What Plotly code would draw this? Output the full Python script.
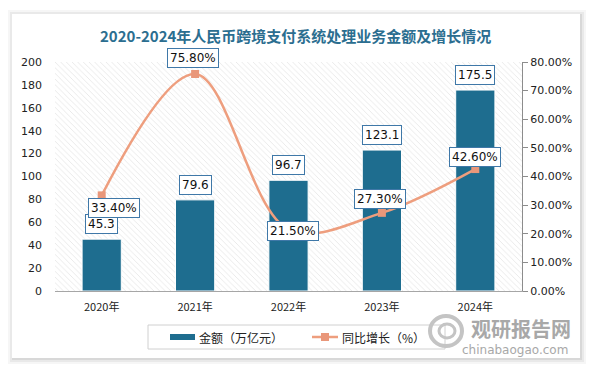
import plotly.graph_objects as go

categories = ["2020年", "2021年", "2022年", "2023年", "2024年"]
amount = [45.3, 79.6, 96.7, 123.1, 175.5]          # 万亿元
growth = [33.40, 75.80, 21.50, 27.30, 42.60]        # %

title_text = "2020-2024年人民币跨境支付系统处理业务金额及增长情况"
bar_name = "金额（万亿元）"
line_name = "同比增长（%）"

BAR_COLOR = "#1E6D8F"
LINE_COLOR = "#EE9E7E"
MARKER_COLOR = "#E9977A"
LABEL_BORDER = "#3F78A8"
FONT = "DejaVu Sans, Verdana, sans-serif"
CJK = "Noto Sans CJK SC, sans-serif"

xpos = list(range(len(categories)))

fig = go.Figure()

# hatched plot-area background
fig.add_trace(go.Bar(
    x=[(len(categories) - 1) / 2], y=[200], width=[len(categories)],
    marker=dict(color="white", line=dict(width=0),
                pattern=dict(shape="\\", fgcolor="#d0d0d0", bgcolor="white",
                             size=4, solidity=0.22, fillmode="overlay")),
    showlegend=False, hoverinfo="skip", yaxis="y"))

fig.add_trace(go.Bar(
    x=xpos, y=amount, width=0.42, name=bar_name,
    marker=dict(color=BAR_COLOR, line=dict(color="white", width=1)),
    yaxis="y", showlegend=False))

fig.add_trace(go.Scatter(
    x=xpos, y=growth, name=line_name, mode="lines+markers",
    line=dict(color=LINE_COLOR, width=2.5, shape="spline", smoothing=1.0),
    marker=dict(symbol="square", size=8, color=MARKER_COLOR),
    yaxis="y2", showlegend=False))

annotations = []
for i, v in enumerate(amount):
    annotations.append(dict(
        x=xpos[i], y=v, xref="x", yref="y", text=f"{v:.1f}", showarrow=False,
        yshift=15, font=dict(family=FONT, size=12, color="#111"),
        bgcolor="white", bordercolor=LABEL_BORDER, borderwidth=1, borderpad=2))

pct_dx = [12, -2, 4, -2, 0]
pct_dy = [-13, 16, -2, 14, 12]
for i, v in enumerate(growth):
    annotations.append(dict(
        x=xpos[i], y=v, xref="x", yref="y2", text=f"{v:.2f}%", showarrow=False,
        xshift=pct_dx[i], yshift=pct_dy[i],
        font=dict(family=FONT, size=12, color="#111"),
        bgcolor="white", bordercolor=LABEL_BORDER, borderwidth=1, borderpad=2))


def px_x(p):
    return (p - 55) / 467


def px_y(p):
    return (291 - p) / 229


# title
annotations.append(dict(
    x=px_x(295), y=px_y(35), xref="paper", yref="paper",
    text=f"<b>{title_text}</b>", showarrow=False,
    font=dict(family=CJK, size=15, color="#2B6E90"),
    xanchor="center", yanchor="middle"))

# custom legend texts
annotations.append(dict(
    x=px_x(197), y=px_y(337), xref="paper", yref="paper", text=bar_name,
    showarrow=False, xanchor="left", yanchor="middle",
    font=dict(family=CJK, size=12, color="#222")))
annotations.append(dict(
    x=px_x(340), y=px_y(337), xref="paper", yref="paper", text=line_name,
    showarrow=False, xanchor="left", yanchor="middle",
    font=dict(family=CJK, size=12, color="#222")))

# watermark
annotations.append(dict(
    x=px_x(521), y=px_y(328), xref="paper", yref="paper",
    text="<b>观研报告网</b>", showarrow=False,
    font=dict(family=CJK, size=20, color="#a8a8a8"),
    xanchor="center", yanchor="middle"))
annotations.append(dict(
    x=px_x(515), y=px_y(350), xref="paper", yref="paper",
    text="chinabaogao.com", showarrow=False,
    font=dict(family=FONT, size=12, color="#a8a8a8"),
    xanchor="center", yanchor="middle"))

shapes = []
# card shadow
for off, col in [(6, "rgba(0,0,0,0.035)"), (4, "rgba(0,0,0,0.05)"), (2, "rgba(0,0,0,0.07)")]:
    shapes.append(dict(type="rect", xref="paper", yref="paper", layer="below",
                       x0=px_x(12 - off + 2), x1=px_x(580 + off), y0=px_y(358 + off), y1=px_y(14 - off + 2),
                       fillcolor=col, line=dict(width=0)))
shapes.append(dict(type="rect", xref="paper", yref="paper", layer="below",
                   x0=px_x(12), x1=px_x(580), y0=px_y(358), y1=px_y(14),
                   fillcolor="white", line=dict(width=0)))
# legend box and symbols
shapes.append(dict(type="rect", xref="paper", yref="paper", layer="above",
                   x0=px_x(148), x1=px_x(445), y0=px_y(349), y1=px_y(325),
                   fillcolor="rgba(0,0,0,0)", line=dict(color="#d0d0d0", width=1)))
shapes.append(dict(type="rect", xref="paper", yref="paper", layer="above",
                   x0=px_x(170), x1=px_x(195), y0=px_y(340), y1=px_y(334),
                   fillcolor=BAR_COLOR, line=dict(width=0)))
shapes.append(dict(type="line", xref="paper", yref="paper", layer="above",
                   x0=px_x(312), x1=px_x(338), y0=px_y(337), y1=px_y(337),
                   line=dict(color=LINE_COLOR, width=2.5)))
shapes.append(dict(type="rect", xref="paper", yref="paper", layer="above",
                   x0=px_x(321), x1=px_x(329), y0=px_y(341), y1=px_y(333),
                   fillcolor=MARKER_COLOR, line=dict(width=0)))
# watermark logo approximation
shapes.append(dict(type="circle", xref="paper", yref="paper", layer="above",
                   x0=px_x(430), x1=px_x(462), y0=px_y(346), y1=px_y(316),
                   line=dict(color="#c4c4c4", width=4)))
shapes.append(dict(type="circle", xref="paper", yref="paper", layer="above",
                   x0=px_x(439), x1=px_x(455), y0=px_y(338), y1=px_y(324),
                   line=dict(color="#c4c4c4", width=3)))

fig.update_layout(
    width=593, height=369,
    margin=dict(l=55, r=71, t=62, b=78, autoexpand=False),
    paper_bgcolor="white",
    plot_bgcolor="rgba(0,0,0,0)",
    barmode="overlay",
    showlegend=False,
    xaxis=dict(range=[-0.5, len(categories) - 0.5], tickvals=xpos, ticktext=categories,
               showline=True, linecolor="#a6a6a6", linewidth=1, showgrid=False,
               zeroline=False, ticks="", ticklabelstandoff=6,
               tickfont=dict(family=CJK, size=11, color="#222")),
    yaxis=dict(range=[0, 200], dtick=20, showgrid=False, zeroline=False, showline=False,
               ticks="", ticklabelstandoff=12,
               tickfont=dict(family=FONT, size=11, color="#222")),
    yaxis2=dict(range=[0, 80], dtick=10, overlaying="y", side="right", showgrid=False,
                zeroline=False, showline=True, linecolor="#8c8c8c", linewidth=1,
                ticks="outside", ticklen=5, tickcolor="#8c8c8c",
                tickformat=".2f", ticksuffix="%",
                tickfont=dict(family=FONT, size=11, color="#222")),
    annotations=annotations,
    shapes=shapes,
)

fig.write_html("out.html", config={"displayModeBar": False},
               post_script="document.body.style.margin='0';document.body.style.padding='0';")
